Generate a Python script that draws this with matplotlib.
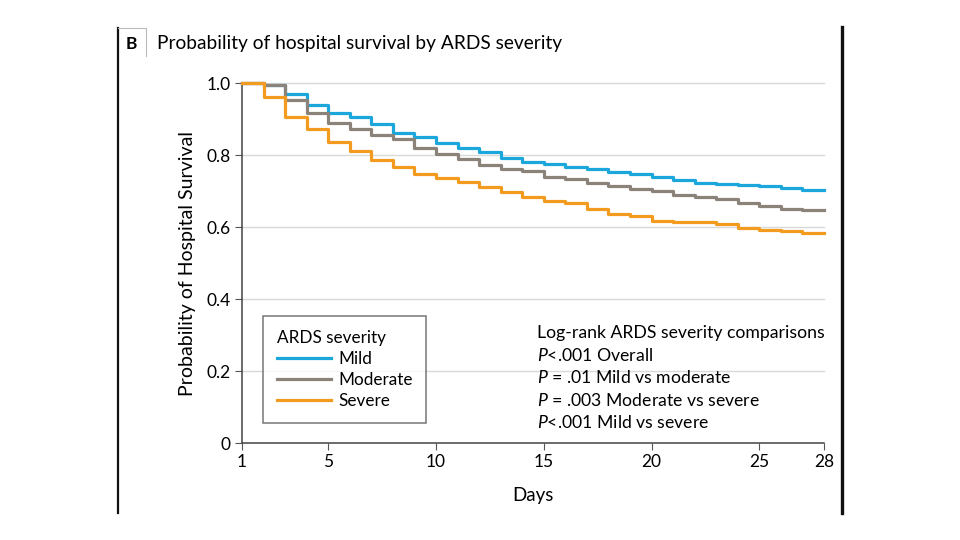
import numpy as np
import matplotlib
matplotlib.use('Agg')
import matplotlib.pyplot as plt
from matplotlib.lines import Line2D

plt.rcParams['font.family'] = ['Lato', 'DejaVu Sans']
plt.rcParams['mathtext.fontset'] = 'custom'
plt.rcParams['mathtext.it'] = 'Lato:italic'
plt.rcParams['mathtext.rm'] = 'Lato'

# survival at start of each day (step after)
days = list(range(1, 29))
mild = [1.0, 0.994, 0.969, 0.939, 0.916, 0.905, 0.886, 0.862, 0.849, 0.834,
        0.819, 0.809, 0.791, 0.781, 0.775, 0.766, 0.760, 0.754, 0.747, 0.738,
        0.731, 0.721, 0.720, 0.717, 0.714, 0.707, 0.703, 0.703]
moderate = [1.0, 0.994, 0.953, 0.918, 0.888, 0.872, 0.856, 0.844, 0.820, 0.802,
            0.789, 0.773, 0.761, 0.756, 0.740, 0.733, 0.721, 0.714, 0.706, 0.701,
            0.690, 0.684, 0.679, 0.666, 0.659, 0.651, 0.646, 0.646]
severe = [1.0, 0.960, 0.906, 0.871, 0.837, 0.811, 0.786, 0.768, 0.747, 0.737,
          0.724, 0.710, 0.697, 0.684, 0.672, 0.668, 0.649, 0.636, 0.631, 0.618,
          0.614, 0.613, 0.607, 0.598, 0.593, 0.590, 0.582, 0.582]

series = ['Mild', 'Moderate', 'Severe']
colors = ['#1ba6dc', '#8b8279', '#f29b1f']
xticks = [1, 5, 10, 15, 20, 25, 28]
yticks = [0, 0.2, 0.4, 0.6, 0.8, 1.0]
yticklabels = ['0', '0.2', '0.4', '0.6', '0.8', '1.0']
stats = ['Log-rank ARDS severity comparisons',
         '$P$<.001 Overall',
         '$P$ = .01 Mild vs moderate',
         '$P$ = .003 Moderate vs severe',
         '$P$<.001 Mild vs severe']

fig = plt.figure(figsize=(9.6, 5.4), dpi=100)
ax = fig.add_axes([242/960, 1-443/540, 582/960, 360/540])

for name, vals, c in zip(series, [mild, moderate, severe], colors):
    ax.step(days, vals, where='post', color=c, lw=2.3, label=name,
            clip_on=False, zorder=3)

ax.set_xlim(1, 28)
ax.set_ylim(0, 1.0)
ax.set_xticks(xticks)
ax.set_yticks(yticks)
ax.set_yticklabels(yticklabels)
for y in yticks[1:]:
    ax.axhline(y, color='#d9d9d9', lw=1, zorder=1, clip_on=False)
for s in ['top', 'right']:
    ax.spines[s].set_visible(False)
for s in ['left', 'bottom']:
    ax.spines[s].set_color('#444444')
    ax.spines[s].set_linewidth(1.1)
ax.tick_params(length=5, color='#555555', labelsize=12.5, pad=3)
ax.set_xlabel('Days', fontsize=13.5, labelpad=12)
ax.set_ylabel('Probability of Hospital Survival', fontsize=14, labelpad=8)

leg = ax.legend(loc='lower left', bbox_to_anchor=(0.036, 0.056), title='ARDS severity',
                fontsize=12.3, title_fontsize=12.3, frameon=True, fancybox=False,
                handlelength=3.2, handletextpad=0.4, borderpad=0.8, labelspacing=0.3,
                alignment='left', borderaxespad=0)
leg.get_frame().set_edgecolor('#555555')
leg.get_frame().set_linewidth(1.1)

for i, t in enumerate(stats):
    ax.text(0.507, 0.306 - i*0.0625, t, transform=ax.transAxes, fontsize=12.7,
            va='center', ha='left')

# panel frame and title
fig.add_artist(Line2D([117.5/960, 117.5/960], [1-28/540, 1-513/540], color='#111111', lw=1.6))
fig.add_artist(Line2D([842/960, 842/960], [1-27/540, 1-513/540], color='#111111', lw=2.4))
fig.add_artist(Line2D([117.5/960, 146/960], [1-28/540, 1-28/540], color='#bbbbbb', lw=0.8))
fig.add_artist(Line2D([146/960, 146/960], [1-28/540, 1-56/540], color='#bbbbbb', lw=0.8))
fig.text(131/960, 1-44/540, 'B', fontsize=12.5, fontweight='bold', ha='center', va='center')
fig.text(157/960, 1-44/540, 'Probability of hospital survival by ARDS severity',
         fontsize=13.8, ha='left', va='center')

fig.savefig('out.png', dpi=100)
